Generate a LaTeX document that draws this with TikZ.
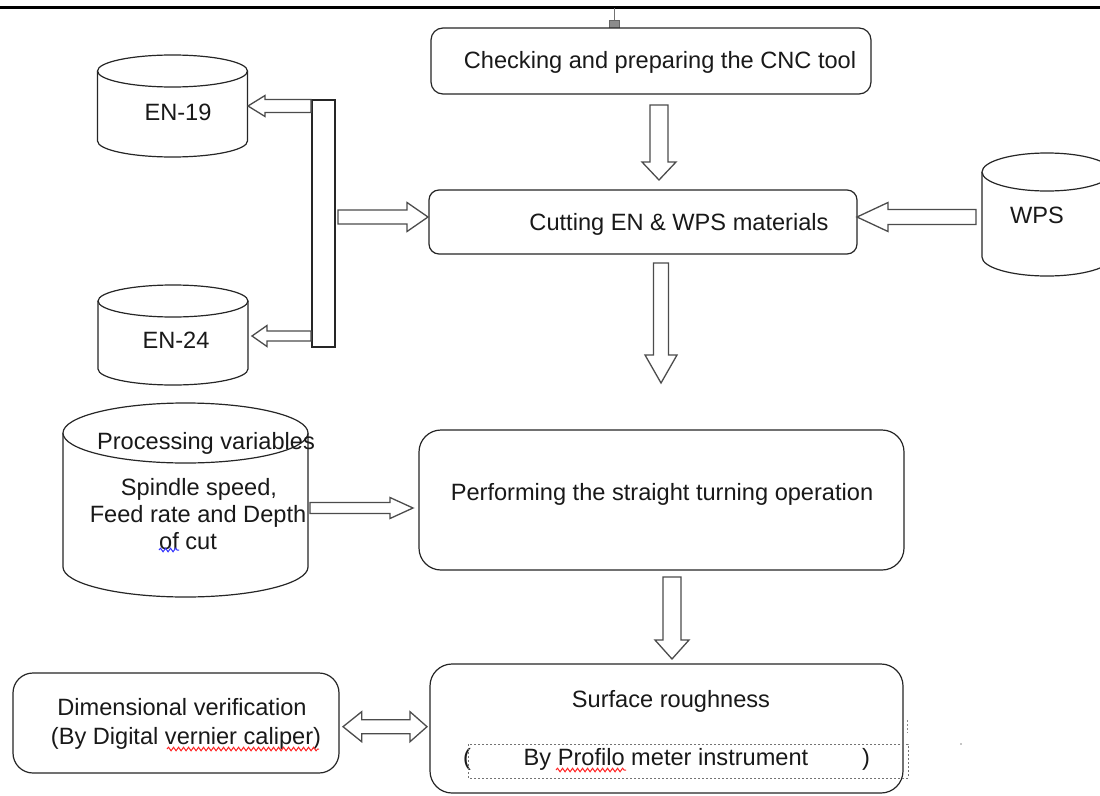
\documentclass[tikz,border=0pt]{standalone}
\usepackage{fontspec}
\setmainfont{Liberation Sans}
\usetikzlibrary{decorations.pathmorphing}
\tikzset{
  boxsty/.style={draw=black!85, line width=1.2pt, fill=white, inner sep=0pt, outer sep=0pt},
  cylsty/.style={draw=black!85, line width=1.2pt, fill=white},
  arrowsty/.style={draw=black!70, line width=1.3pt, fill=white, line join=miter},
  txt/.style={font=\fontsize{23.6}{27}\selectfont, inner sep=0pt, anchor=base, text=black!90},
  squig/.style={line width=1pt, decorate, decoration={snake, amplitude=1.8pt, segment length=5pt}}
}
% block arrow: start x, start y, angle, length, shaft half width, head half width, head length
\newcommand{\BArrow}[7]{%
  \draw[arrowsty, shift={(#1,#2)}, rotate=#3]
    (0,-#5) -- ({#4-#7},-#5) -- ({#4-#7},-#6) -- (#4,0) -- ({#4-#7},#6) -- ({#4-#7},#5) -- (0,#5) -- cycle;}
% cylinder: left x, right x, top centre y, bottom centre y, y radius
\newcommand{\Cyl}[5]{%
  \draw[cylsty] (#1,#3) -- (#1,#4) arc[start angle=180, end angle=360, x radius={(#2-#1)/2*1pt}, y radius=#5pt] -- (#2,#3);
  \draw[cylsty] ({(#1+#2)/2},#3) ellipse[x radius={(#2-#1)/2*1pt}, y radius=#5pt];}
\begin{document}
\begin{tikzpicture}[x=1pt,y=1pt]
\useasboundingbox (0,0) rectangle (1100,-795);
\fill[white] (0,0) rectangle (1100,-795);

% header rule and connector square
\draw[line width=3pt, black] (0,-7) -- (1100,-7);
\coordinate (hdr) at (614.5,-8);
\node[draw=black!60, fill=black!45, minimum width=10pt, minimum height=12pt, inner sep=0pt, outer sep=0pt] (sq) at (614.5,-26) {};
\draw[black!55, line width=1pt] (hdr) -- (sq.north);

% boxes
\node[boxsty, rounded corners=12pt, minimum width=440pt, minimum height=66pt] (b1) at (651,-61) {};
\node[boxsty, rounded corners=10pt, minimum width=428pt, minimum height=64pt] (b2) at (643,-222) {};
\node[boxsty, rounded corners=22pt, minimum width=485pt, minimum height=140pt] (b3) at (661.5,-500) {};
\node[boxsty, rounded corners=22pt, minimum width=473pt, minimum height=129pt] (b4) at (666.5,-728.5) {};
\node[boxsty, rounded corners=20pt, minimum width=326pt, minimum height=100pt] (b5) at (176,-723) {};
\node[boxsty, minimum width=23pt, minimum height=247pt] (bar) at (323.5,-223.5) {};

% cylinders
\Cyl{97.5}{247.5}{-71}{-141}{16}
\Cyl{98}{248}{-301}{-369}{16}
\Cyl{982}{1112}{-172}{-257}{19}
\Cyl{63}{308}{-433}{-567}{30}

% texts
\node[txt] (t1) at (660,-68) {Checking and preparing the CNC tool};
\node[txt] (t2) at (679,-230) {Cutting EN \& WPS materials};
\node[txt] (ten19) at (178,-120) {EN-19};
\node[txt] (ten24) at (176,-348) {EN-24};
\node[txt] (twps) at (1037,-223) {WPS};
\node[txt] (tp1) at (206,-449) {Processing variables};
\node[txt] (tp2) at (199,-495) {Spindle speed,};
\node[txt] (tp3) at (198,-522) {Feed rate and Depth};
\node[txt] (tp4) at (188,-549) {of cut};
\node[txt] (t3) at (662,-500) {Performing the straight turning operation};
\node[txt] (t4) at (671,-707) {Surface roughness};
\node[txt] (t5) at (666,-765) {By Profilo meter instrument};
\node[txt] (lp) at (467,-765) {(};
\node[txt] (rp) at (866,-765) {)};
\node[txt] (d1) at (182,-715) {Dimensional verification};
\node[txt] (d2) at (186,-744) {(By Digital vernier caliper)};

% dotted frame in surface roughness box
\draw[black!55, line width=0.8pt, dash pattern=on 2pt off 2pt] (468,-744) rectangle (908,-778);
\draw[black!45, line width=0.8pt, dash pattern=on 2pt off 2pt] (907,-720) -- (907,-733);
\fill[black!45] (961,-744) circle (0.8pt);

% spell-check squiggles
\draw[squig, blue!80] (159,-550) -- (179,-550);
\draw[squig, red!85] (167,-749) -- (319,-749);
\draw[squig, red!85] (556,-770) -- (626,-770);

% block arrows
\BArrow{659}{-105}{-90}{75}{9}{17}{18}
\BArrow{661}{-263}{-90}{120}{7.5}{16}{28}
\BArrow{672}{-577}{-90}{82}{9}{17}{19}
\BArrow{338}{-217}{0}{90}{7}{14.5}{21}
\BArrow{976}{-217}{180}{119}{7.5}{14.5}{31}
\BArrow{311}{-106}{180}{63}{6.5}{10.5}{17}
\BArrow{311}{-336}{180}{59}{5}{10.5}{15}
\BArrow{310}{-508}{0}{103}{5.5}{10.5}{23}
\draw[arrowsty] (343,-726.7) -- (361.7,-711.7) -- (361.7,-719.7) -- (410,-719.7) -- (410,-711.7) -- (427,-726.7) -- (410,-741.7) -- (410,-733.7) -- (361.7,-733.7) -- (361.7,-741.7) -- cycle;
\end{tikzpicture}
\end{document}
